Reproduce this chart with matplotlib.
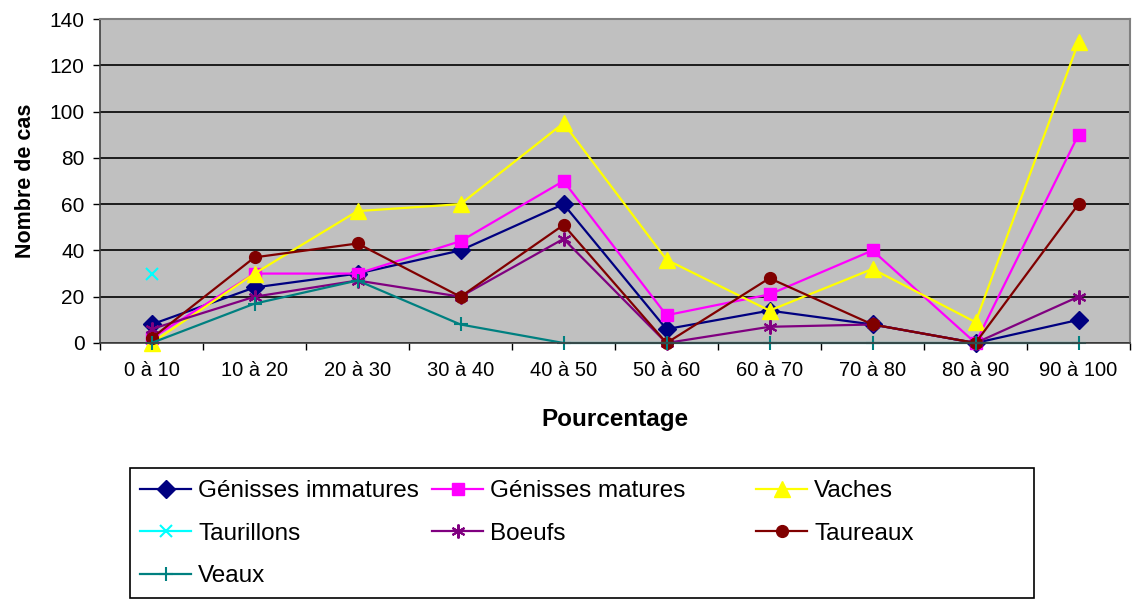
import matplotlib
matplotlib.use("Agg")
import matplotlib.pyplot as plt
import numpy as np
from matplotlib.patches import Rectangle

plt.rcParams['font.family'] = ['Liberation Sans', 'DejaVu Sans']

categories = ["0 à 10", "10 à 20", "20 à 30", "30 à 40", "40 à 50",
              "50 à 60", "60 à 70", "70 à 80", "80 à 90", "90 à 100"]

genisses_immatures = [8, 24, 30, 40, 60, 6, 14, 8, 0, 10]
genisses_matures = [2, 30, 30, 44, 70, 12, 21, 40, 0, 90]
vaches = [0, 30, 57, 60, 95, 36, 14, 32, 9, 130]
taurillons = [30, None, None, None, None, None, None, None, None, None]
boeufs = [6, 20, 27, 20, 45, 0, 7, 8, 0, 20]
taureaux = [2, 37, 43, 20, 51, 0, 28, 8, 0, 60]
veaux = [0, 17, 27, 8, 0, 0, 0, 0, 0, 0]

yticks = [0, 20, 40, 60, 80, 100, 120, 140]

fig = plt.figure(figsize=(11.32, 5.99), dpi=100)
ax = fig.add_axes([100/1132, 1-343/599, 1030/1132, 324/599])
ax.set_facecolor("#C0C0C0")

x = np.arange(len(categories))

def vals(v):
	return np.array([np.nan if a is None else a for a in v], dtype=float)

series = [
	("Génisses immatures", genisses_immatures, "#000080", "D", 9),
	("Génisses matures", genisses_matures, "#FF00FF", "s", 9),
	("Vaches", vaches, "#FFFF00", "^", 11.5),
	("Taurillons", taurillons, "#00FFFF", "x", 9),
	("Boeufs", boeufs, "#800080", (6, 2, 0), 10),
	("Taureaux", taureaux, "#800000", "o", 8.5),
	("Veaux", veaux, "#008080", "+", 10),
]

handles = {}
for name, v, col, mk, ms in series:
	ln, = ax.plot(x, vals(v), color=col, marker=mk, markersize=ms, lw=1.6,
		markeredgewidth=1.5 if mk in ("x", "+", (6, 2, 0)) else 1,
		markerfacecolor=col, markeredgecolor=col, label=name, clip_on=False)
	handles[name] = ln

ax.set_xlim(-0.5, len(categories) - 0.5)
ax.set_ylim(0, 140)
ax.set_yticks(yticks)
ax.set_xticks(x)
ax.set_xticklabels(categories)
ax.set_xticks(np.arange(-0.5, len(categories)), minor=True)
ax.tick_params(axis='x', which='major', length=0, pad=13, labelsize=14.5)
ax.tick_params(axis='x', which='minor', length=5, direction='out', width=1)
ax.tick_params(axis='y', length=5, direction='out', width=1, pad=6, labelsize=15)
ax.yaxis.grid(True, color="black", lw=1.2)
ax.set_axisbelow(True)

for s in ("top", "right"):
	ax.spines[s].set_color("#808080")
	ax.spines[s].set_linewidth(1.5)
for s in ("left", "bottom"):
	ax.spines[s].set_color("#404040")
	ax.spines[s].set_linewidth(1.2)

ax.set_ylabel("Nombre de cas", fontsize=15.5, fontweight="bold", labelpad=10)
ax.set_xlabel("Pourcentage", fontsize=17.5, fontweight="bold", labelpad=20)

# legend: one column at a time so each sits where it does in the original
columns = [
	(["Génisses immatures", "Taurillons", "Veaux"], 140),
	(["Génisses matures", "Boeufs"], 432),
	(["Vaches", "Taureaux"], 756),
]
for names, xpix in columns:
	fig.legend([handles[n] for n in names], names, frameon=False,
		loc="upper left", bbox_to_anchor=(xpix/1132, 1-480/599),
		fontsize=17.5, handlelength=2.1, handletextpad=0.3,
		labelspacing=0.85, borderpad=0, borderaxespad=0)

fig.patches.append(Rectangle((130/1132, 1/599), 904/1132, 130/599,
	transform=fig.transFigure, fill=False, edgecolor="black", lw=1.2))

fig.savefig("out.png", dpi=100)
